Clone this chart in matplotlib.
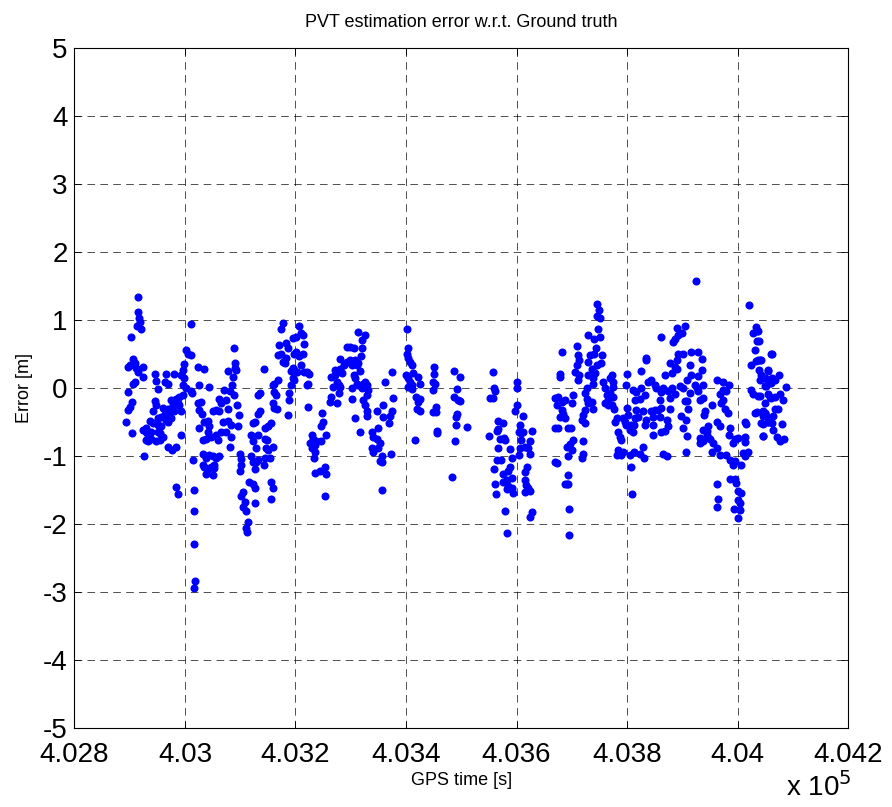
import matplotlib
matplotlib.use("Agg")
import matplotlib.pyplot as plt
from matplotlib.ticker import FuncFormatter, MultipleLocator
import numpy as np

plt.rcParams['font.family'] = ['Liberation Sans', 'DejaVu Sans']
plt.rcParams['lines.scale_dashes'] = False

title = "PVT estimation error w.r.t. Ground truth"
xlabel = "GPS time [s]"
ylabel = "Error [m]"
xlim = (402800, 404200)
ylim = (-5, 5)

# ---- segment 1: 402890 - 403070 s ----
seg1_t = [402915, 402915, 402917, 402918, 402914, 402921, 402902, 402906, 402900, 402909,
          402912, 402915, 402924, 402924, 402897, 402906, 402910, 402897, 402904, 402900,
          402897, 402894, 402904, 402926,
          402945, 402966, 402980, 402948, 402963, 402969, 402951, 402945, 402948, 402942,
          402936, 402930, 402930, 402933, 402948, 402954, 402951, 402957, 402960, 402969,
          402963, 402966, 402972, 402975, 402981, 402987, 402990, 402993, 402996, 402993,
          402996, 402999, 403002, 403010, 403013, 402990, 402984, 402951, 402954, 402957,
          402960, 402969, 402976, 402984, 402993, 402951, 402942, 402939, 402930, 402924,
          402938, 402933, 402969, 402975, 402978,
          402998, 403001, 403006, 403011, 403011, 402996, 403023, 403035, 403026, 403044,
          403014, 403017, 403016, 403016, 403018, 403016, 402984, 402987,
          403023, 403029, 403026, 403030, 403041, 403044, 403035, 403026, 403041, 403032,
          403038, 403047, 403056, 403059, 403065, 403068, 403062, 403065, 403062, 403056,
          403050, 403032, 403038, 403044, 403050, 403056, 403062, 403035, 403041, 403047,
          403053, 403032, 403038, 403050, 403053, 403071]
seg1_e = [1.33, 1.12, 1.02, 0.96, 0.90, 0.87, 0.74, 0.42, 0.33, 0.36,
          0.29, 0.23, 0.31, 0.16, 0.31, 0.06, 0.09, -0.06, -0.21, -0.28,
          -0.33, -0.51, -0.66, -1.01,
          0.20, 0.20, 0.20, 0.10, 0.09, 0.05, -0.02, -0.20, -0.25, -0.34,
          -0.49, -0.60, -0.77, -0.79, -0.79, -0.77, -0.45, -0.43, -0.30, -0.31,
          -0.38, -0.48, -0.35, -0.18, -0.35, -0.23, -0.25, -0.35, -0.11, 0.19,
          0.04, 0.14, -0.01, -0.05, -0.08, -0.13, -0.16, -0.65, -0.67, -0.57,
          -0.72, -0.87, -0.92, -0.87, -0.70, -0.55, -0.52, -0.65, -0.65, -0.62,
          -0.75, -0.70, -0.50, -0.44, -0.25,
          0.35, 0.55, 0.50, 0.48, 0.94, 0.26, 0.31, 0.27, 0.04, 0.01,
          -1.06, -1.50, -1.81, -2.30, -2.84, -2.94, -1.46, -1.57,
          -0.23, -0.21, -0.33, -0.38, -0.49, -0.57, -0.50, -0.60, -0.65, -0.77,
          -0.75, -0.72, -0.70, -0.77, -0.65, -0.50, -0.35, -0.23, -0.16, -0.33,
          -0.34, -0.97, -1.04, -0.99, -1.01, -1.04, -1.01, -1.16, -1.19, -1.16,
          -1.18, -1.14, -1.27, -1.29, -1.14, -0.03]

# ---- segment 2: 403070 - 403270 s ----
seg2_t = [403089, 403090, 403090, 403093, 403087, 403085, 403078, 403081, 403089, 403075,
          403078, 403095, 403097, 403077, 403084, 403096, 403075, 403084, 403081, 403099,
          403101, 403102, 403099, 403115, 403123, 403126, 403105, 403102, 403108, 403105,
          403111, 403114, 403111, 403113, 403126, 403120, 403123, 403129, 403126, 403132,
          403143, 403144, 403153, 403156, 403159, 403155, 403120, 403123, 403132, 403129,
          403144, 403149, 403147, 403150, 403159, 403150, 403145, 403156, 403123, 403126,
          403132, 403135, 403132, 403135, 403143, 403159, 403162, 403165, 403162, 403168,
          403159, 403162, 403167, 403171, 403168, 403174, 403177, 403181, 403183, 403177,
          403174, 403186, 403183, 403192, 403195, 403192, 403189, 403188, 403186, 403198,
          403198, 403195, 403195, 403201, 403207, 403210, 403213, 403215, 403198, 403204,
          403207, 403213, 403201, 403210, 403203, 403216, 403221, 403225, 403222, 403221,
          403222, 403229, 403232, 403226, 403230, 403235, 403238, 403247, 403235, 403234,
          403235, 403244, 403253, 403256, 403253, 403250, 403247, 403248, 403256, 403265,
          403268, 403265, 403262, 403271]
seg2_e = [0.59, 0.36, 0.29, 0.26, 0.16, 0.04, 0.25, -0.05, -0.11, -0.18,
          -0.31, -0.25, -0.40, -0.49, -0.55, -0.56, -0.65, -0.72, -0.87, -0.97,
          -1.05, -1.14, -1.23, -1.39, -1.41, -1.47, -1.53, -1.60, -1.68, -1.75,
          -1.82, -1.97, -2.07, -2.12, -1.69, -1.01, -1.09, -1.09, -1.19, -1.06,
          -1.14, -1.04, -1.04, -1.38, -1.47, -1.64, -0.70, -0.79, -0.69, -0.88,
          -0.75, -0.77, -0.89, -0.92, -0.87, -0.57, -0.60, -0.52, -0.52, -0.50,
          -0.38, -0.34, -0.11, -0.08, 0.27, 0.04, -0.06, -0.11, 0.06, 0.11,
          -0.23, -0.30, -0.31, 0.63, 0.48, 0.50, 0.38, 0.37, 0.43, 0.95,
          0.86, 0.58, 0.65, 0.24, 0.14, 0.04, -0.08, -0.18, -0.40, 0.11,
          0.26, 0.29, 0.73, 0.75, 0.90, 0.80, 0.77, 0.64, 0.50, 0.48,
          0.47, 0.49, 0.53, 0.33, 0.23, 0.23, 0.23, 0.20, 0.06, 0.04,
          -0.28, -0.70, -0.75, -0.82, -0.89, -0.84, -0.79, -0.79, -0.94, -1.04,
          -1.25, -1.23, -1.16, -1.27, -1.60, -0.50, -0.57, -0.37, -0.69, 0.16,
          0.01, -0.13, -0.21, 0.26]

# ---- segment 3: 403270 - 403460 s ----
seg3_t = [403272, 403275, 403278, 403281, 403278, 403275, 403281, 403284, 403287, 403281,
          403293, 403299, 403305, 403293, 403299, 403302, 403308, 403311, 403314, 403325,
          403321, 403321, 403318, 403314, 403317, 403308, 403305, 403311, 403302, 403314,
          403320, 403323, 403326, 403329, 403332, 403329, 403323, 403326, 403303, 403308,
          403317, 403329, 403329, 403347, 403359, 403374, 403371, 403359, 403369, 403350,
          403338, 403341, 403347, 403353, 403350, 403338, 403341, 403356, 403356, 403353,
          403372, 403356, 403362, 403375, 403377,
          403402, 403404, 403402, 403404, 403407, 403411, 403400, 403404, 403407, 403410,
          403404, 403411, 403413, 403422, 403425, 403419, 403425, 403422, 403420, 403426,
          403416, 403450, 403450, 403449, 403452, 403449, 403455, 403455, 403449, 403456,
          403457]
seg3_e = [0.19, 0.09, 0.04, 0.01, -0.08, -0.23, 0.28, 0.21, 0.33, 0.42,
          0.60, 0.60, 0.59, 0.38, 0.41, 0.33, 0.41, 0.33, 0.82, 0.78,
          0.70, 0.59, 0.47, 0.36, 0.24, 0.14, 0.19, 0.06, -0.01, 0.04,
          -0.01, 0.06, 0.09, 0.04, -0.03, -0.11, -0.18, -0.25, -0.16, -0.45,
          -0.65, -0.35, -0.41, -0.35, -0.25, -0.35, -0.41, -0.43, -0.52, -0.60,
          -0.65, -0.72, -0.75, -0.82, -0.89, -0.89, -0.94, -1.00, -1.09, -1.08,
          -0.97, -1.50, 0.08, 0.23, -0.15,
          0.86, 0.59, 0.50, 0.43, 0.38, 0.34, 0.19, 0.14, 0.09, 0.04,
          0.01, -0.02, 0.21, 0.16, 0.05, -0.13, -0.16, -0.21, -0.31, -0.34,
          -0.77, 0.31, 0.20, 0.09, 0.05, -0.03, -0.28, -0.36, -0.36, -0.64,
          -0.67]

# ---- segment 4: 403480 - 403670 s ----
seg4_t = [403486, 403498, 403492, 403486, 403495, 403498, 403492, 403490, 403490, 403489,
          403510, 403484,
          403558, 403559, 403561, 403552, 403558, 403567, 403576, 403567, 403564, 403550,
          403570, 403577, 403579, 403567, 403588, 403591, 403564, 403572, 403559, 403588,
          403585, 403576, 403591, 403582, 403576, 403561, 403585, 403591, 403582, 403594,
          403562, 403580, 403582,
          403600, 403600, 403600, 403598, 403612, 403606, 403604, 403609, 403612, 403628,
          403609, 403625, 403615, 403621, 403606, 403624, 403604, 403619, 403616, 403615,
          403618, 403621, 403625, 403616, 403628, 403625, 403669, 403669, 403669]
seg4_e = [0.25, 0.16, -0.02, -0.13, -0.18, -0.20, -0.38, -0.43, -0.55, -0.79,
          -0.58, -1.32,
          0.23, -0.01, -0.05, -0.15, -0.15, -0.49, -0.52, -0.61, -0.64, -0.71,
          -0.75, -0.74, -0.77, -0.89, -0.90, -1.03, -1.07, -1.07, -1.19, -1.16,
          -1.23, -1.27, -1.33, -1.36, -1.38, -1.41, -1.44, -1.47, -1.49, -1.55,
          -1.57, -1.81, -2.14,
          0.09, 0.00, -0.25, -0.34, -0.42, -0.55, -0.65, -0.67, -0.65, -0.64,
          -0.77, -0.79, -0.87, -0.88, -0.88, -0.97, -0.99, -1.16, -1.24, -1.36,
          -1.43, -1.48, -1.52, -1.53, -1.83, -1.90, -0.15, -0.60, -1.09]

# ---- segment 5: 403670 - 403870 s ----
seg5_t = [403745, 403749, 403745, 403751, 403748, 403730, 403741, 403751, 403743, 403733,
          403741, 403755, 403730, 403736, 403745, 403753, 403742, 403730, 403739, 403739,
          403709, 403711, 403713, 403709, 403706, 403713, 403711, 403679, 403679, 403682,
          403727, 403724, 403727, 403730, 403736, 403739, 403724, 403721, 403718, 403724,
          403703, 403700, 403688, 403682, 403676, 403673, 403682, 403685, 403679, 403688,
          403694, 403699, 403675, 403703, 403697, 403691, 403700, 403694, 403721, 403721,
          403718, 403673, 403693, 403691, 403687, 403694, 403695, 403695,
          403757, 403760, 403763, 403766, 403769, 403772, 403775, 403775, 403769, 403775,
          403760, 403766, 403772, 403776, 403781, 403778, 403784, 403787, 403790, 403793,
          403796, 403799, 403800, 403802, 403800, 403799, 403805, 403808, 403811, 403813,
          403814, 403817, 403820, 403814, 403811, 403817, 403823, 403826, 403832, 403829,
          403835, 403832, 403838, 403844, 403850, 403853, 403844, 403847, 403850, 403856,
          403859, 403862, 403859, 403862, 403865, 403829, 403831, 403823, 403813, 403805,
          403784, 403781, 403790, 403793, 403807, 403809, 403825, 403835, 403835, 403862,
          403847, 403847, 403862, 403865, 403868]
seg5_e = [1.23, 1.14, 1.06, 1.03, 0.87, 0.78, 0.72, 0.75, 0.59, 0.48,
          0.49, 0.48, 0.38, 0.28, 0.33, 0.36, 0.21, 0.19, 0.14, 0.06,
          0.61, 0.48, 0.41, 0.33, 0.23, 0.19, 0.11, 0.20, 0.16, 0.53,
          -0.01, -0.08, -0.16, -0.23, -0.21, -0.31, -0.33, -0.40, -0.48, -0.52,
          -0.11, -0.22, -0.18, -0.21, -0.13, -0.25, -0.33, -0.38, -0.43, -0.45,
          -0.59, -0.60, -0.60, -0.77, -0.83, -0.87, -0.92, -1.01, -0.79, -0.98,
          -1.03, -1.11, -1.29, -1.42, -1.42, -1.42, -1.79, -2.16,
          0.09, -0.01, -0.11, -0.18, 0.14, 0.19, 0.09, 0.01, -0.08, -0.13,
          -0.23, -0.25, -0.25, -0.31, -0.45, -0.50, -0.65, -0.72, -0.77, -0.45,
          -0.50, -0.55, -0.30, -0.40, 0.20, 0.04, -0.62, -0.55, -0.65, -0.55,
          -0.45, -0.33, -0.43, -0.18, -0.03, -0.06, -0.16, -0.01, -0.11, -0.35,
          -0.48, -0.55, 0.09, 0.11, 0.04, -0.01, -0.35, -0.43, -0.33, -0.33,
          -0.43, -0.30, -0.18, -0.06, -0.01, -0.87, -1.03, -0.97, -0.94, -0.99,
          -0.92, -0.99, -0.99, -0.94, -1.16, -1.57, 0.25, 0.44, 0.41, 0.75,
          -0.55, -0.70, -0.65, -0.97, 0.19]

# ---- segment 6: 403870 - 404090 s ----
seg6_t = [403924, 404020,
          403890, 403893, 403905, 403899, 403886, 403884, 403893, 403902, 403916, 403928,
          403935, 403914, 403890, 403887, 403878, 403881, 403890, 403916, 403908, 403929,
          403935, 403923, 403938, 403896, 403902, 403881, 403875, 403878, 403887, 403914,
          403926, 403929, 403932, 403938, 403941, 403940, 403953, 403905, 403911, 403908,
          403878, 403872, 403875, 403869, 403898, 403906, 403902, 403908, 403872, 403906,
          403962, 403974, 403984, 403974, 403980, 403968, 403974, 403971, 403977, 403983,
          403962, 403968, 403947, 403944, 403938, 403932, 403932, 403938, 403944, 403950,
          403956, 403962, 403968, 403953, 403980, 403986, 403995, 403992, 404007, 404013,
          404010, 404019, 403986, 403984, 403995, 404013, 404014, 404001, 403992,
          403962, 403964, 403962, 403986, 403995, 403998, 404001, 404006, 404001, 404004,
          403994, 404004, 404001,
          404028, 404034, 404037, 404036, 404031, 404034, 404025, 404037, 404043, 404055,
          404061, 404038, 404043, 404049, 404040, 404055, 404061, 404052, 404067, 404025,
          404028, 404037, 404055, 404058, 404049, 404061, 404067, 404031, 404049, 404046,
          404052, 404055, 404043, 404046, 404062, 404013, 404016,
          404035, 404063, 404039, 404056, 404041, 404062, 404075, 404059, 404050, 404087,
          404041, 404068, 404077, 404083, 404035, 404050, 404047, 404065, 404074, 404056,
          404047, 404081, 404065, 404047, 404071, 404077, 404085]
seg6_e = [1.57, 1.21,
          0.88, 0.78, 0.90, 0.80, 0.71, 0.67, 0.49, 0.49, 0.53, 0.53,
          0.42, 0.34, 0.41, 0.31, 0.36, 0.22, 0.27, 0.18, 0.11, 0.17,
          0.26, 0.04, 0.04, 0.02, 0.00, 0.00, -0.05, -0.15, -0.10, -0.08,
          0.00, -0.05, -0.18, -0.15, -0.35, -0.40, -0.25, -0.20, -0.32, -0.20,
          -0.32, -0.47, -0.57, -0.64, -0.42, -0.47, -0.59, -0.71, -1.01, -0.94,
          0.12, 0.09, 0.04, -0.03, -0.05, -0.10, -0.18, -0.23, -0.32, -0.37,
          -0.50, -0.57, -0.57, -0.64, -0.62, -0.74, -0.81, -0.79, -0.69, -0.76,
          -0.81, -0.89, -0.99, -0.95, -0.99, -1.06, -1.08, -1.13, -1.13, -1.01,
          -0.96, -0.94, -0.59, -0.69, -0.76, -0.72, -0.80, -0.74, -0.81,
          -1.42, -1.64, -1.75, -1.35, -1.34, -1.40, -1.52, -1.55, -1.65, -1.70,
          -1.78, -1.80, -1.92,
          0.81, 0.89, 0.84, 0.68, 0.56, 0.39, 0.34, 0.41, 0.41, 0.26,
          0.49, 0.26, 0.18, 0.14, 0.12, 0.12, 0.07, 0.02, 0.12, -0.03,
          -0.09, -0.12, -0.10, -0.13, -0.23, -0.15, -0.32, -0.37, -0.37, -0.35,
          -0.42, -0.50, -0.52, -0.71, -0.52, -0.50, -0.54,
          0.83, 0.50, 0.68, 0.25, 0.40, 0.14, 0.19, 0.07, 0.02, 0.01,
          -0.12, -0.13, -0.10, -0.18, -0.36, -0.37, -0.42, -0.42, -0.32, -0.50,
          -0.54, -0.54, -0.62, -0.71, -0.72, -0.79, -0.76]

gps_time = np.array(seg1_t + seg2_t + seg3_t + seg4_t + seg5_t + seg6_t, dtype=float)
error_m = np.array(seg1_e + seg2_e + seg3_e + seg4_e + seg5_e + seg6_e, dtype=float)

fig = plt.figure(figsize=(8.92, 8.07), dpi=100)
ax = fig.add_axes([0.0835, 0.0983, 0.8672, 0.8426])

ax.plot(gps_time, error_m, linestyle='none', marker='o', markersize=5.8,
        color=(0, 0, 1), markeredgewidth=0)

ax.set_xlim(*xlim)
ax.set_ylim(*ylim)
ax.xaxis.set_major_locator(MultipleLocator(200))
ax.yaxis.set_major_locator(MultipleLocator(1))
ax.xaxis.set_major_formatter(FuncFormatter(lambda v, p: f"{v/1e5:g}"))
ax.yaxis.set_major_formatter(FuncFormatter(lambda v, p: f"{v:g}"))

ax.grid(True, color='black', linewidth=0.6, linestyle=(0, (5.5, 3.8)), alpha=0.8)
ax.tick_params(direction='in', top=True, right=True, length=5, width=0.6,
               labelsize=20, colors='black')
ax.tick_params(axis='x', pad=10.5)
ax.tick_params(axis='y', pad=5)
for s in ax.spines.values():
    s.set_linewidth(0.8)

ax.set_title(title, fontsize=13, pad=15)
ax.set_xlabel(xlabel, fontsize=13, labelpad=3)
ax.set_ylabel(ylabel, fontsize=13, labelpad=7)
fig.text(0.955, 0.006, r"x 10$^{5}$", fontsize=20, ha='right', va='bottom')

fig.savefig("out.png", dpi=100)
